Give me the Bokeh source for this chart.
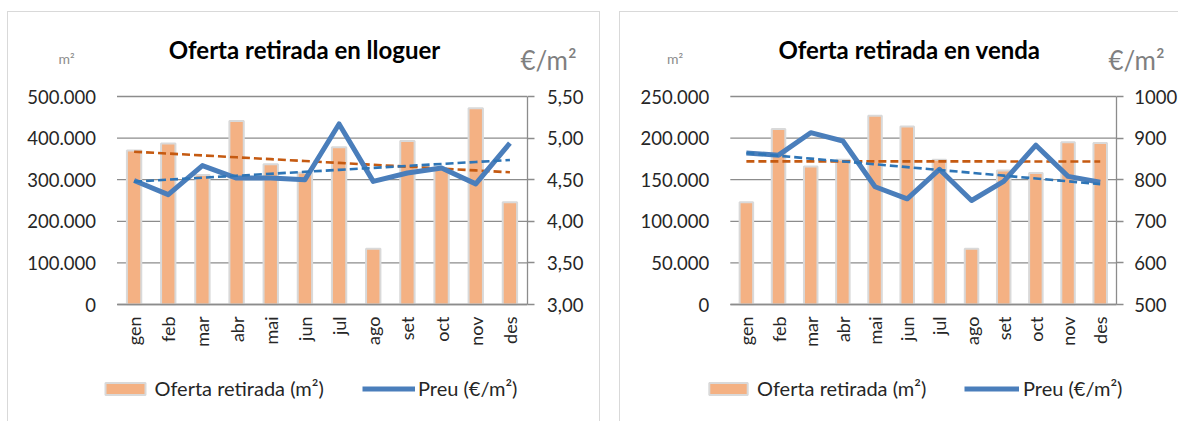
import math
import numpy as np
from bokeh.plotting import figure
from bokeh.models import (Range1d, LinearAxis, FixedTicker, CustomJSTickFormatter,
                          Label, Legend, LegendItem, Spacer)
from bokeh.layouts import row, column
from bokeh.embed import file_html
from bokeh.resources import INLINE

months = ["gen", "feb", "mar", "abr", "mai", "jun", "jul", "ago", "set", "oct", "nov", "des"]

rent_offer = [370000, 387000, 311000, 441000, 337000, 317000, 378000, 134000, 393000, 325000, 472000, 246000]
rent_price = [4.49, 4.32, 4.67, 4.52, 4.52, 4.50, 5.17, 4.48, 4.58, 4.64, 4.45, 4.94]
sale_offer = [123000, 211000, 166000, 174000, 227000, 214000, 174000, 67000, 161000, 158000, 195000, 194000]
sale_price = [864, 859, 913, 893, 783, 754, 825, 750, 796, 883, 808, 794]

rent_offer_ticks = [0, 100000, 200000, 300000, 400000, 500000]
rent_price_ticks = [3.0, 3.5, 4.0, 4.5, 5.0, 5.5]
sale_offer_ticks = [0, 50000, 100000, 150000, 200000, 250000]
sale_price_ticks = [500, 600, 700, 800, 900, 1000]

titles = ["Oferta retirada en lloguer", "Oferta retirada en venda"]
legend_labels = ["Oferta retirada (m²)", "Preu (€/m²)"]

FONT = "Lato"
GRID = "#8c8c8c"
BAR = "#F4B183"
BAR_LINE = "#D9D9D9"
LINE = "#4A7EBB"
TREND_O = "#C55A11"
TREND_B = "#2E75B6"
TXT = "#262626"

THOUS_FMT = """
const s = Math.round(tick).toString();
return s.replace(/\\B(?=(\\d{3})+(?!\\d))/g, ".");
"""
DEC_FMT = """return tick.toFixed(2).replace(".", ",");"""
INT_FMT = """return Math.round(tick).toString();"""

H = 410          # canvas height
TOP = 13         # page y of the canvas top
PLOT_TOP = 84    # px from canvas top to the top gridline
PLOT_BOT = 292   # px from canvas top to the zero line


def trend(vals):
    idx = np.arange(len(vals))
    fit = np.polyfit(idx, np.asarray(vals, dtype=float), 1)
    return list(np.polyval(fit, idx))


def span_range(v0, v1, p0, p1, total):
    """range whose v0 lands at pixel p0 and v1 at pixel p1 on an axis `total` px long"""
    k = (v1 - v0) / (p1 - p0)
    return Range1d(v0 - p0 * k, v1 + (total - p1) * k)


def sy(page_y):
    return H - (page_y - TOP)


def make_chart(title, offer, price, offer_ticks, price_ticks, price_fmt, L):
    W = L["W"]
    n = len(months)
    xs = list(range(n))
    x_lo, x_hi = -0.5, n - 0.5

    x_range = span_range(x_lo, x_hi, L["xl"], L["xr"], W)
    y_range = span_range(offer_ticks[0], offer_ticks[-1], H - PLOT_BOT, H - PLOT_TOP, H)
    p_range = span_range(price_ticks[0], price_ticks[-1], H - PLOT_BOT, H - PLOT_TOP, H)

    p = figure(x_range=x_range, y_range=y_range, width=W, height=H,
               output_backend="svg", toolbar_location=None,
               min_border=0, min_border_left=0, min_border_right=0,
               min_border_top=0, min_border_bottom=0)
    p.title.visible = False
    p.outline_line_color = None
    p.background_fill_color = "white"
    p.border_fill_color = "white"
    p.styles = L["styles"]
    p.extra_y_ranges = {"price": p_range}

    p.xgrid.visible = False
    p.ygrid.visible = False

    p.segment(x0=[x_lo] * len(offer_ticks), x1=[x_hi] * len(offer_ticks),
              y0=offer_ticks, y1=offer_ticks, line_color=GRID, line_width=1.3)

    ly = p.yaxis[0]
    ly.fixed_location = x_lo
    ly.ticker = FixedTicker(ticks=offer_ticks)
    ly.formatter = CustomJSTickFormatter(code=THOUS_FMT)
    ly.axis_line_color = None
    ly.major_tick_line_color = None
    ly.minor_tick_line_color = None
    ly.major_tick_in = 0
    ly.major_tick_out = 0
    ly.major_label_standoff = L["lstand"]
    ly.major_label_text_font = FONT
    ly.major_label_text_font_size = "18.5px"
    ly.major_label_text_color = TXT

    ry = LinearAxis(y_range_name="price", ticker=FixedTicker(ticks=price_ticks),
                    formatter=CustomJSTickFormatter(code=price_fmt),
                    fixed_location=x_hi, bounds=(price_ticks[0], price_ticks[-1]))
    ry.axis_line_color = GRID
    ry.axis_line_width = 1.3
    ry.major_tick_line_color = GRID
    ry.major_tick_line_width = 1.3
    ry.major_tick_in = 0
    ry.major_tick_out = 7
    ry.minor_tick_line_color = None
    ry.major_label_standoff = L["rstand"]
    ry.major_label_text_font = FONT
    ry.major_label_text_font_size = "18.5px"
    ry.major_label_text_color = TXT
    p.add_layout(ry, "right")

    bx = p.xaxis[0]
    bx.fixed_location = offer_ticks[0]
    bx.bounds = (x_lo, x_hi)
    bx.ticker = FixedTicker(ticks=xs)
    bx.major_label_overrides = {i: m for i, m in enumerate(months)}
    bx.axis_line_color = GRID
    bx.axis_line_width = 1.3
    bx.major_tick_line_color = None
    bx.minor_tick_line_color = None
    bx.major_tick_in = 0
    bx.major_tick_out = 0
    bx.major_label_orientation = math.pi / 2
    bx.major_label_standoff = 12
    bx.major_label_text_font = FONT
    bx.major_label_text_font_size = "18px"
    bx.major_label_text_color = TXT

    bars = p.vbar(x=xs, top=offer, width=0.42, fill_color=BAR,
                  line_color=BAR_LINE, line_width=2)
    p.line(x=xs, y=trend(offer), line_color=TREND_O, line_width=2.6,
           line_dash="8 4")
    ln = p.line(x=xs, y=price, y_range_name="price", line_color=LINE,
                line_width=5, line_join="round")
    p.line(x=xs, y=trend(price), y_range_name="price", line_color=TREND_B,
           line_width=2.6, line_dash="8 4")

    common = dict(glyph_height=15, label_height=15, padding=0, margin=0,
                  border_line_color=None, background_fill_alpha=0,
                  label_text_font=FONT, label_text_font_size="20px",
                  label_text_color=TXT)
    leg1 = Legend(items=[LegendItem(label=legend_labels[0], renderers=[bars])],
                  location=L["leg1"], glyph_width=L["gw1"],
                  label_standoff=L["ls1"], **common)
    leg2 = Legend(items=[LegendItem(label=legend_labels[1], renderers=[ln])],
                  location=L["leg2"], glyph_width=L["gw2"],
                  label_standoff=L["ls2"], **common)
    p.add_layout(leg1, "center")
    p.add_layout(leg2, "center")

    p.add_layout(Label(x=L["tx"], y=sy(50), x_units="screen", y_units="screen",
                       text=title, text_font=FONT, text_font_style="bold",
                       text_font_size="24px", text_align="center",
                       text_baseline="middle", text_color="#000000"))
    p.add_layout(Label(x=L["mx"], y=sy(59), x_units="screen", y_units="screen",
                       text="m²", text_font=FONT, text_font_size="14px",
                       text_align="center", text_baseline="middle",
                       text_color="#8c8c8c"))
    p.add_layout(Label(x=L["ex"], y=sy(60), x_units="screen", y_units="screen",
                       text="€/m²", text_font=FONT, text_font_size="26px",
                       text_align="center", text_baseline="middle",
                       text_color="#7f7f7f"))
    return p


border = "1px solid #d9d9d9"
L1 = dict(W=593, xl=108.5, xr=518.5, lstand=21, rstand=13,
          leg1=(91.5, sy(401)), gw1=50, ls1=5,
          leg2=(354, sy(401)), gw2=53, ls2=3,
          tx=296, mx=58, ex=540,
          styles={"border-top": border, "border-left": border, "border-right": border})
L2 = dict(W=559, xl=109.8, xr=495.8, lstand=21, rstand=11,
          leg1=(84, sy(401)), gw1=48, ls1=5,
          leg2=(344, sy(401)), gw2=55, ls2=4,
          tx=289, mx=54.5, ex=516,
          styles={"border-top": border, "border-left": border})

p1 = make_chart(titles[0], rent_offer, rent_price, rent_offer_ticks,
                rent_price_ticks, DEC_FMT, L1)
p2 = make_chart(titles[1], sale_offer, sale_price, sale_offer_ticks,
                sale_price_ticks, INT_FMT, L2)

layout = column(Spacer(height=11, width=10),
                row(Spacer(width=7, height=10), p1, Spacer(width=19, height=10), p2))
open("out.html", "w").write(file_html(layout, INLINE))
